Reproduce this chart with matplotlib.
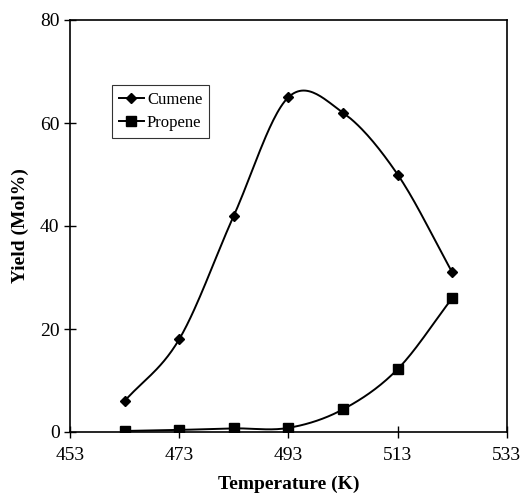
import matplotlib.pyplot as plt
import numpy as np

temps = [463, 473, 483, 493, 503, 513, 523]
cumene = [6, 18, 42, 65, 62, 50, 31]
propene = [0.2, 0.4, 0.7, 0.8, 4.4, 12.2, 26]


def smooth(x, y, n=30):
    # Catmull-Rom spline, roughly what spreadsheet "smoothed line" does
    x = np.asarray(x, float)
    y = np.asarray(y, float)
    px = np.concatenate([[2 * x[0] - x[1]], x, [2 * x[-1] - x[-2]]])
    py = np.concatenate([[2 * y[0] - y[1]], y, [2 * y[-1] - y[-2]]])
    xs, ys = [], []
    t = np.linspace(0, 1, n)
    for i in range(1, len(px) - 2):
        for p, out in ((px, xs), (py, ys)):
            p0, p1, p2, p3 = p[i - 1], p[i], p[i + 1], p[i + 2]
            out.extend(0.5 * ((2 * p1) + (-p0 + p2) * t
                              + (2 * p0 - 5 * p1 + 4 * p2 - p3) * t ** 2
                              + (-p0 + 3 * p1 - 3 * p2 + p3) * t ** 3))
    return np.array(xs), np.array(ys)


plt.rcParams['font.family'] = 'Liberation Serif'

fig = plt.figure(figsize=(5.22, 5.0), dpi=100)
ax = fig.add_axes([0.134, 0.136, 0.837, 0.824])

sx, sy = smooth(temps, cumene)
ax.plot(sx, sy, color='black', lw=1.4)
ax.plot(temps, cumene, 'D', color='black', ms=5)
sx, sy = smooth(temps, propene)
ax.plot(sx, sy, color='black', lw=1.4)
ax.plot(temps, propene, 's', color='black', ms=6.5)

# legend proxies
ax.plot([], [], '-D', color='black', ms=5, lw=1.4, label='Cumene')
ax.plot([], [], '-s', color='black', ms=6.5, lw=1.4, label='Propene')
leg = ax.legend(loc='upper left', bbox_to_anchor=(0.096, 0.842), fontsize=12,
                frameon=True, fancybox=False, edgecolor='black',
                handlelength=1.5, handletextpad=0.2, borderpad=0.4,
                labelspacing=0.45, borderaxespad=0)
leg.get_frame().set_linewidth(0.8)

ax.set_xlim(453, 533)
ax.set_ylim(0, 80)
ax.set_xticks(range(453, 534, 20))
ax.set_yticks(range(0, 81, 20))
ax.tick_params(direction='inout', length=8, width=1, labelsize=14, top=False, right=False)
ax.tick_params(axis='x', pad=7)
for s in ax.spines.values():
    s.set_linewidth(1.2)

ax.set_xlabel('Temperature (K)', fontsize=14, fontweight='bold', labelpad=8)
ax.set_ylabel('Yield (Mol%)', fontsize=14, fontweight='bold', labelpad=8)

fig.savefig('out.png', dpi=100)
